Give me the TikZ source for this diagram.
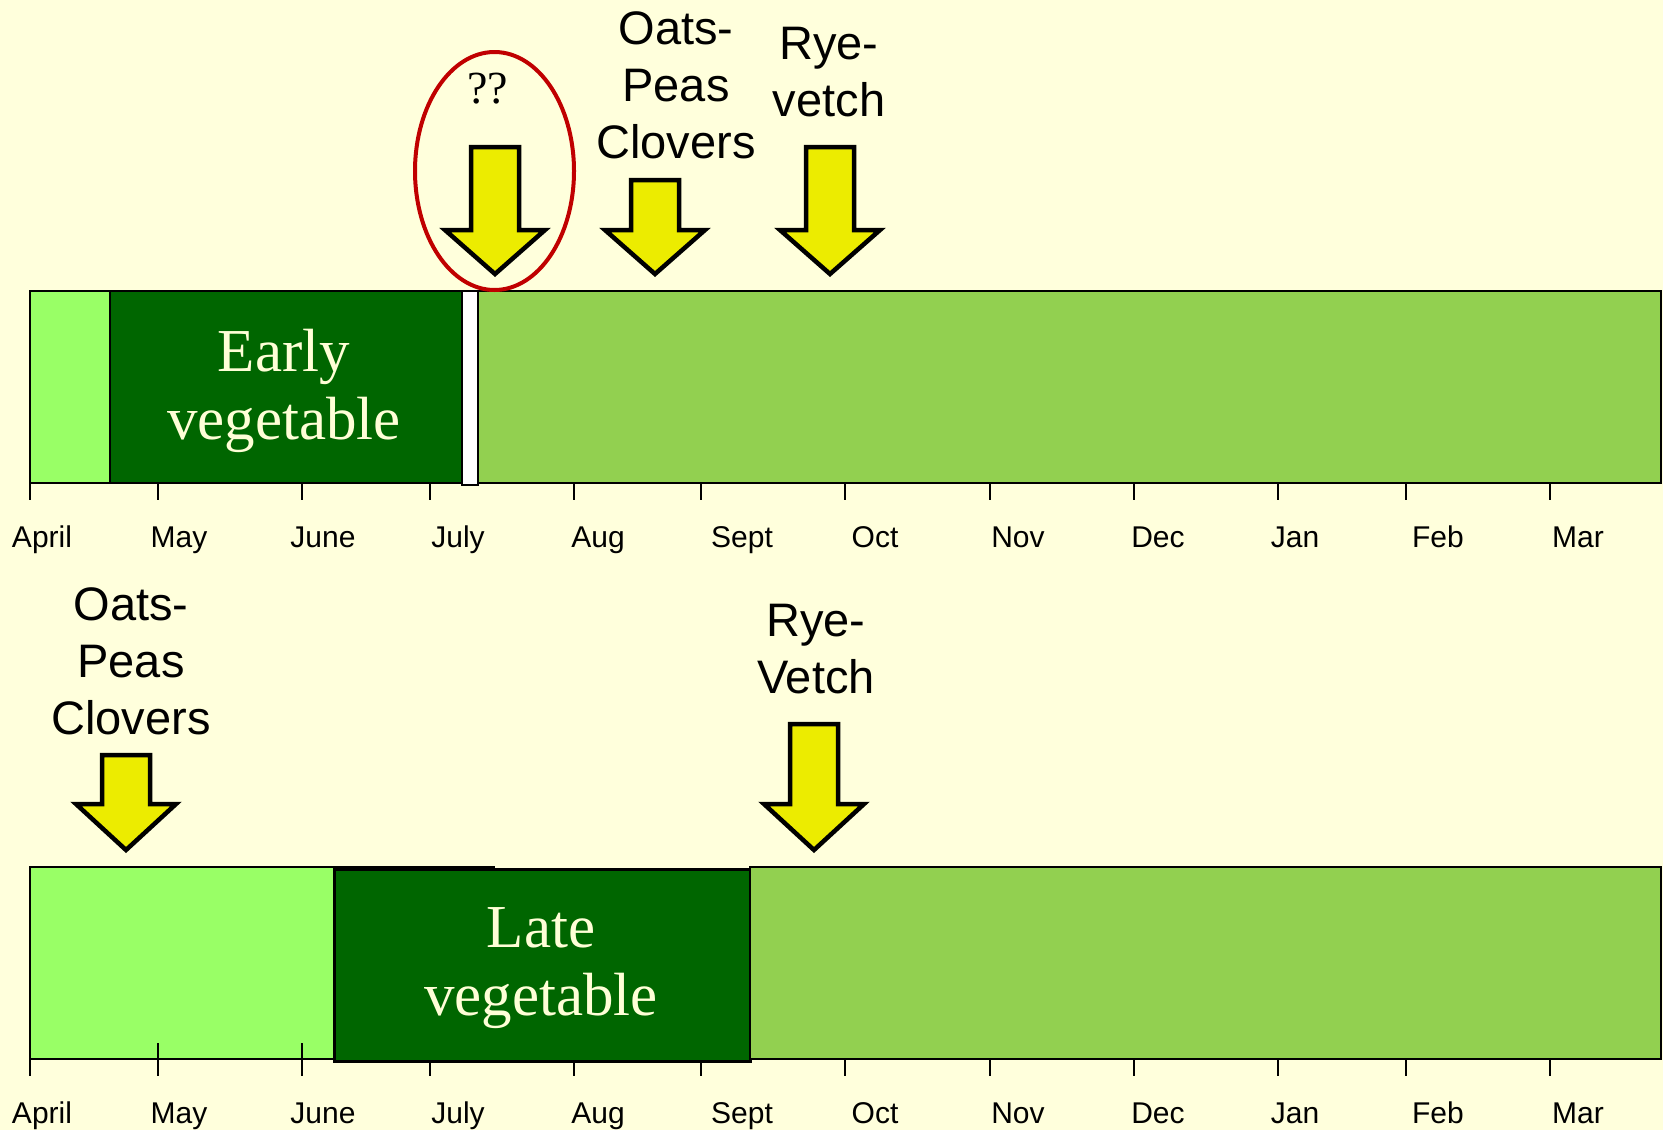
\documentclass[tikz,border=0pt]{standalone}
\usepackage{fontspec}
\setsansfont{Liberation Sans}
\newfontfamily\cropfont{Liberation Serif}
\usepackage{tikz}
\usetikzlibrary{shapes,calc}

\definecolor{paper}{RGB}{255,255,220}
\definecolor{fallow}{RGB}{153,255,102}
\definecolor{vegcrop}{RGB}{0,102,0}
\definecolor{cover}{RGB}{146,208,80}
\definecolor{sowing}{RGB}{236,236,0}
\definecolor{query}{RGB}{192,0,0}
\definecolor{vegtext}{RGB}{255,255,215}

\begin{document}
\begin{tikzpicture}[x=1pt,y=-1pt]
\tikzset{
	crop box/.style = {rectangle, draw, line width=2pt, inner sep=0, outer sep=0, anchor=north west},
	crop text/.style = {text=vegtext, align=center, inner sep=0, font=\fontsize{61}{68}\cropfont},
	sow arrow/.style = {draw=black, line width=4.5pt, fill=sowing},
	sow label/.style = {align=center, inner sep=0, font=\fontsize{47}{57}\sffamily},
	month label/.style = {inner sep=0, anchor=base, font=\fontsize{30}{36}\sffamily},
	month tick/.style = {line width=2pt},
}

\fill[paper] (0,0) rectangle (1663,1130);
\useasboundingbox (0,0) rectangle (1663,1130);

% early vegetable
\foreach \x in {30,158,302,430,574,701,845,990,1134,1278,1406,1550}
	\draw[month tick] (\x,467) -- (\x,500);
\node (fallowA) [crop box, fill=fallow, minimum width=80pt, minimum height=192pt] at (30,291) {};
\node (early) [crop box, fill=vegcrop, minimum width=352pt, minimum height=192pt] at (110,291) {};
\node (gap) [crop box, fill=white, minimum width=16pt, minimum height=194pt] at (462,291) {};
\node (coverA) [crop box, fill=cover, minimum width=1183pt, minimum height=192pt] at (478,291) {};
\node (earlyText) [crop text] at ($(early.center)+(-2,4)$) {Early\\vegetable};

% late vegetable
\node (fallowB) [crop box, fill=fallow, minimum width=464pt, minimum height=192pt] at (30,867) {};
\foreach \x in {30,158,302,430,574,701,845,990,1134,1278,1406,1550}
	\draw[month tick] (\x,1043) -- (\x,1076);
\node (late) [crop box, fill=vegcrop, line width=3pt, minimum width=416pt, minimum height=192pt] at (334,869) {};
\node (coverB) [crop box, fill=cover, minimum width=911pt, minimum height=192pt] at (750,867) {};
\node (lateText) [crop text] at ($(late.center)+(-1,3)$) {Late\\vegetable};

\foreach \m/\x in {April/42,May/179,June/323,July/458,Aug/598,Sept/742,Oct/875,Nov/1018,Dec/1158,Jan/1295,Feb/1438,Mar/1578}{
	\node (top-\m) [month label] at (\x,547) {\m};
	\node (bot-\m) [month label] at (\x,1123) {\m};
}

\foreach \x/\t/\s/\p in {495/147/230/274,655/180/230/274,830/147/230/274,126/755/804/850,814/724/804/850}
	\draw[sow arrow] (\x-24,\t) -- (\x+24,\t) -- (\x+24,\s) -- (\x+50,\s) -- (\x,\p) -- (\x-50,\s) -- (\x-24,\s) -- cycle;

\node (oatsA) [sow label] at (676,85.5) {Oats-\\Peas\\Clovers};
\node (ryeA) [sow label] at (829,72.5) {Rye-\\vetch};
\node (oatsB) [sow label] at (131,661) {Oats-\\Peas\\Clovers};
\node (ryeB) [sow label] at (816,649) {Rye-\\Vetch};

\node (unknown) [ellipse, draw=query, line width=4pt, inner sep=0, minimum width=159pt, minimum height=238pt] at (494.5,171) {};
\node (marks) [inner sep=0, font=\fontsize{46}{54}\cropfont] at (487.5,89) {??};

\end{tikzpicture}
\end{document}
